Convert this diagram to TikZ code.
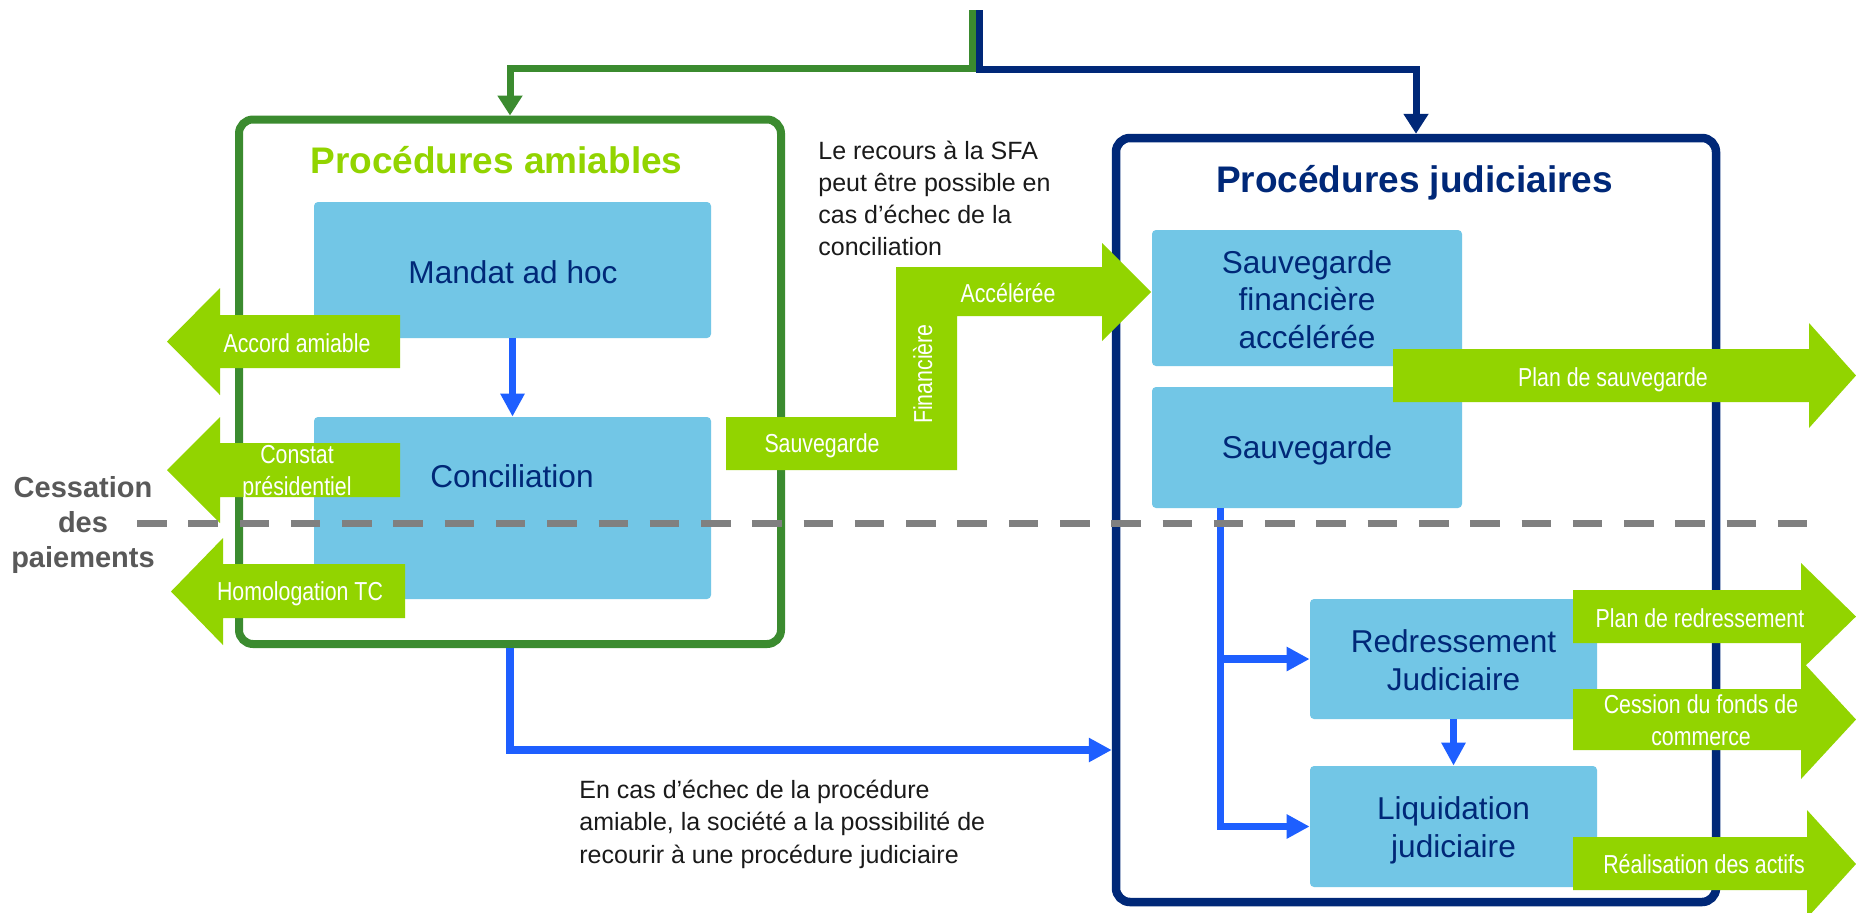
\documentclass[tikz,border=0pt]{standalone}
\usepackage{fontspec}
\setmainfont{Liberation Sans}
\newfontfamily\narrowfont[FakeStretch=0.82]{Liberation Sans}
\usetikzlibrary{arrows.meta,calc}

\definecolor{garrow}{RGB}{146,212,0}
\definecolor{gframe}{RGB}{59,139,47}
\definecolor{navy}{RGB}{0,40,120}
\definecolor{lblue}{RGB}{114,198,230}
\definecolor{cblue}{RGB}{30,95,255}
\definecolor{dgray}{RGB}{128,128,128}
\definecolor{tgray}{RGB}{89,89,89}
\definecolor{txt}{RGB}{26,26,26}

\begin{document}
\begin{tikzpicture}[x=0.5pt,y=-0.5pt,
  frame/.style={line width=4pt, rounded corners=7pt, inner sep=0pt},
  pbox/.style={fill=lblue, rounded corners=2pt, inner sep=0pt},
  boxtxt/.style={text=navy, font=\fontsize{15.8pt}{18.75pt}\selectfont, align=center, inner sep=0pt, anchor=base},
  title/.style={font=\fontsize{18.5pt}{22pt}\selectfont\bfseries, inner sep=0pt, anchor=base},
  lbl/.style={text=white, font=\narrowfont\fontsize{13pt}{16pt}\selectfont, align=center, inner sep=0pt, anchor=base},
  note/.style={text=txt, align=left, inner sep=0pt, anchor=base west},
  conn/.style={draw=cblue, line width=3.6pt, -{Triangle[length=11.5pt,width=11.5pt]}},
  topline/.style={line width=3.5pt, -{Triangle[length=10pt,width=12pt]}},
  garr/.style={fill=garrow},
]
\fill[white] (0,0) rectangle (1856,912);
\useasboundingbox (0,0) rectangle (1856,912);

% frames
\node[frame, draw=gframe, minimum width=271pt, minimum height=262.25pt] (amiable) at (510,381.75) {};
\node[frame, draw=navy, line width=4.25pt, minimum width=300pt, minimum height=382pt] (judic) at (1416,520) {};

% titles
\node[title, text=garrow] (tA) at (496.5,173) {Procédures amiables};
\node[title, text=navy] (tJ) at (1414.5,192) {Procédures judiciaires};

% boxes
\node[pbox, minimum width=198.5pt, minimum height=68pt] (mandat) at (512.5,270) {};
\node[pbox, minimum width=198.5pt, minimum height=91pt] (concil) at (512.5,508) {};
\node[pbox, minimum width=155pt, minimum height=68pt] (sfa) at (1307,298) {};
\node[pbox, minimum width=155pt, minimum height=60.5pt] (sauv) at (1307,447.5) {};
\node[pbox, minimum width=143.5pt, minimum height=60pt] (redr) at (1453.5,659) {};
\node[pbox, minimum width=143.5pt, minimum height=60.5pt] (liq) at (1453.5,826.5) {};

% multi-line texts: base anchor = last line baseline
\node[boxtxt] (tMandat) at (513,283) {Mandat ad hoc};
\node[boxtxt] (tConcil) at (512,487) {Conciliation};
\node[boxtxt] (tSfa) at (1307,348) {Sauvegarde\\financière\\accélérée};
\node[boxtxt] (tSauv) at (1307,458) {Sauvegarde};
\node[boxtxt] (tRedr) at (1453.5,690) {Redressement\\Judiciaire};
\node[boxtxt] (tLiq) at (1453.5,857) {Liquidation\\judiciaire};

% top connectors
\coordinate (topG) at (972.5,10);
\coordinate (gmid) at (972.5,68.5);
\coordinate (topB) at (979.5,10);
\coordinate (bmid) at (979.5,69);
\draw[topline, gframe] (topG) -- (gmid) -| (amiable.north);
\draw[topline, navy] (topB) -- (bmid) -| (judic.north);

% blue connectors
\coordinate (jlevel) at (0,750);
\coordinate (sb) at ([xshift=34.5pt]sauv.south west);
\draw[conn] (mandat.south) -- (concil.north);
\draw[conn] (amiable.south) |- (judic.west |- jlevel);
\draw[conn] (sb) |- (redr.west);
\draw[conn] (sb) |- (liq.west);
\draw[conn] (redr.south) -- (liq.north);

% green arrows
\fill[garr] (400,315) -- (220,315) -- (220,288) -- (167,341.5) -- (220,395) -- (220,368) -- (400,368) -- cycle;
\fill[garr] (400,443) -- (220,443) -- (220,417) -- (167,470) -- (220,523) -- (220,497) -- (400,497) -- cycle;
\fill[garr] (405,564) -- (223,564) -- (223,538) -- (171,591.5) -- (223,645) -- (223,618) -- (405,618) -- cycle;
\fill[garr] (726,417) -- (896,417) -- (896,267) -- (1102,267) -- (1102,243) -- (1151,292) -- (1102,341) -- (1102,316) -- (957,316) -- (957,470) -- (726,470) -- cycle;
\fill[garr] (1393,349) -- (1809,349) -- (1809,323) -- (1856,375.5) -- (1809,428) -- (1809,402) -- (1393,402) -- cycle;
\fill[garr] (1573,590) -- (1801,590) -- (1801,563) -- (1856,616.5) -- (1801,670) -- (1801,643) -- (1573,643) -- cycle;
\fill[garr] (1573,689) -- (1801,689) -- (1801,660) -- (1856,719.5) -- (1801,779) -- (1801,750) -- (1573,750) -- cycle;
\fill[garr] (1573,837) -- (1807,837) -- (1807,810) -- (1856,864) -- (1807,918) -- (1807,890) -- (1573,890) -- cycle;

% labels
\node[lbl] (lAccord) at (297,352) {Accord amiable};
\node[lbl] (lConstat) at (297,495) {Constat\\présidentiel};
\node[lbl] (lHomol) at (300,600) {Homologation TC};
\node[lbl] (lSauv) at (822,452) {Sauvegarde};
\node[lbl, rotate=90] (lFin) at (932,374) {Financière};
\node[lbl] (lAcc) at (1008,302) {Accélérée};
\node[lbl] (lPlanS) at (1613,386) {Plan de sauvegarde};
\node[lbl] (lPlanR) at (1700,627) {Plan de redressement};
\node[lbl] (lCess) at (1701,745) {Cession du fonds de\\commerce};
\node[lbl] (lReal) at (1704,873) {Réalisation des actifs};

% notes
\node[note, font=\fontsize{12.5pt}{15.85pt}\selectfont] (n1) at (818,255) {Le recours à la SFA\\peut être possible en\\cas d’échec de la\\conciliation};
\node[note, font=\fontsize{12.5pt}{16.25pt}\selectfont] (n2) at (579,863) {En cas d’échec de la procédure\\amiable, la société a la possibilité de\\recourir à une procédure judiciaire};

\node[font=\fontsize{14.5pt}{17.5pt}\selectfont\bfseries, text=tgray, align=center, anchor=base, inner sep=0pt] (cess) at (83,567) {Cessation\\des\\paiements};

% dashed line
\coordinate (dL) at (137,523);
\coordinate (dR) at (1807.5,523);
\draw[dgray, line width=3.5pt, dash pattern=on 14.75pt off 10.89pt] (dL) -- (dR);
\end{tikzpicture}
\end{document}
